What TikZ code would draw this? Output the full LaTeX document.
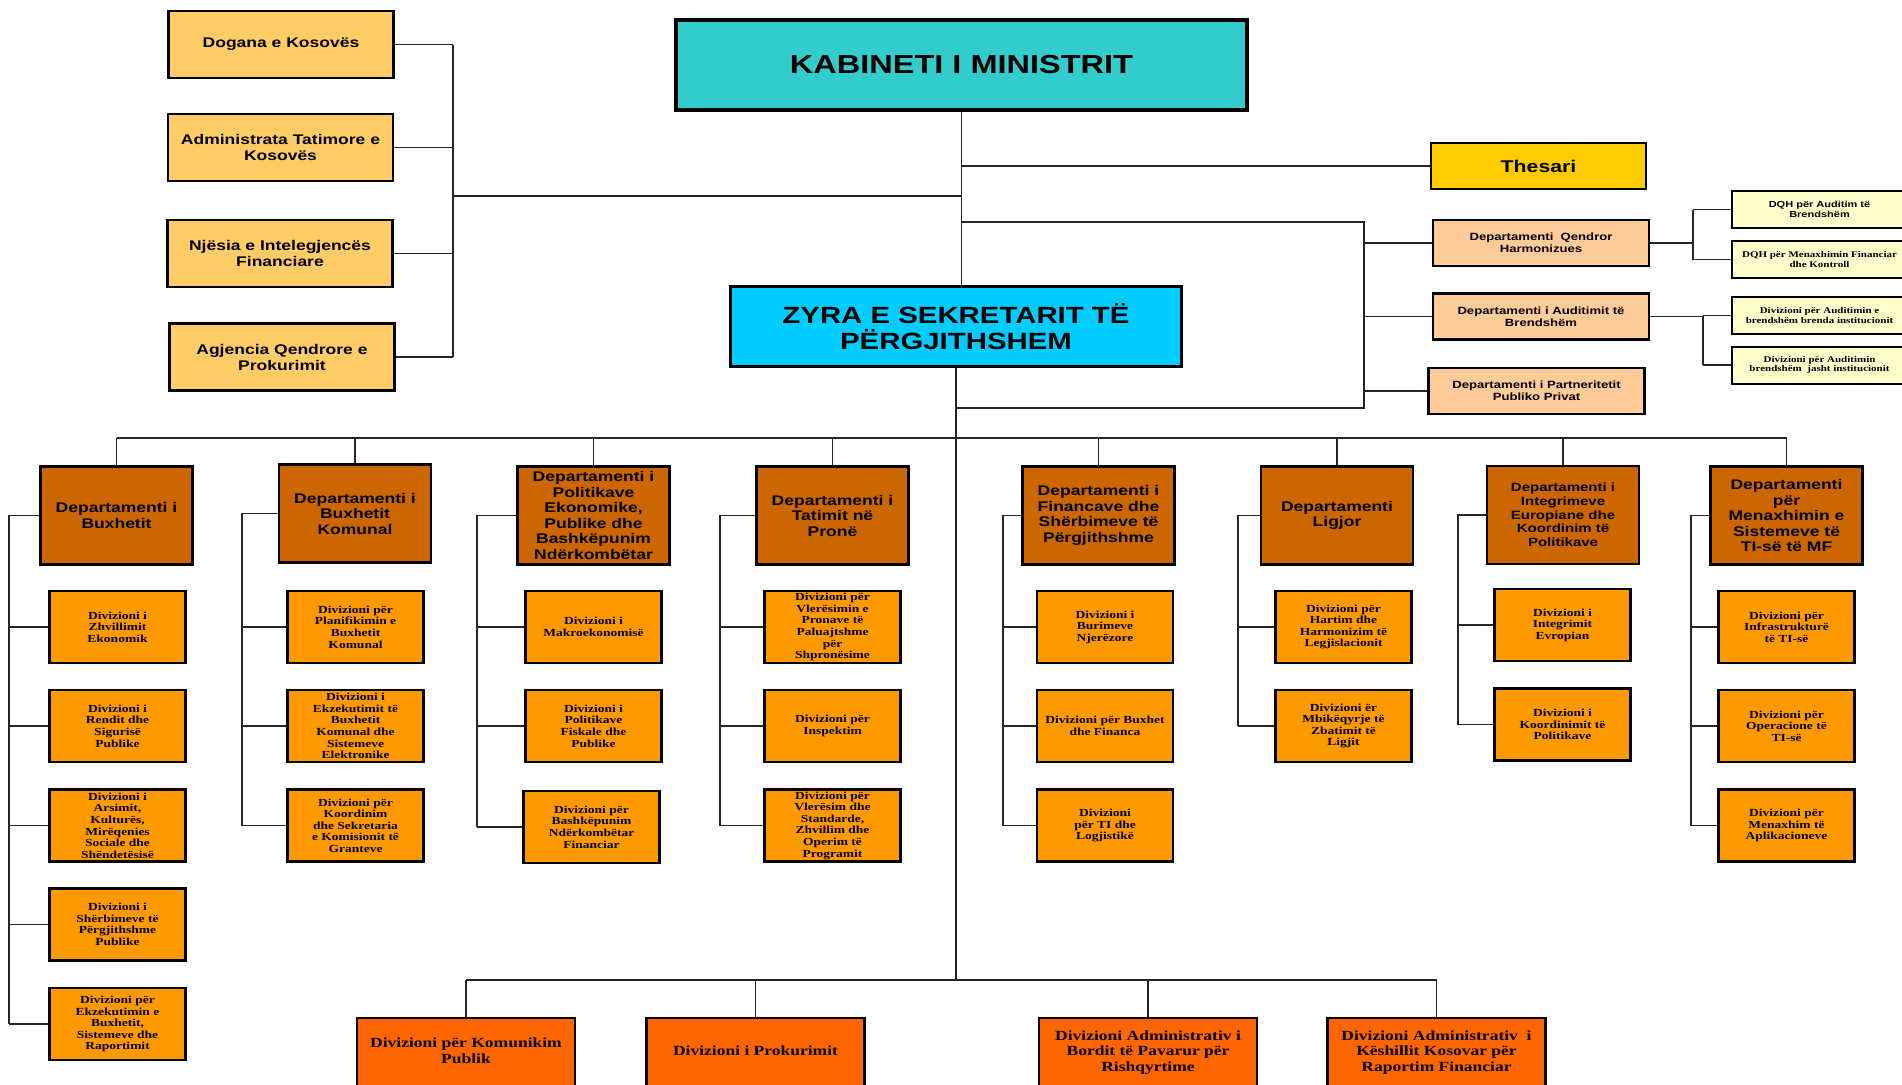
\documentclass[tikz,border=0pt]{standalone}
\usepackage{fontspec}
\setmainfont{Liberation Serif}[FakeStretch=1.25]
\setsansfont{Liberation Sans}[FakeStretch=1.25]
\usetikzlibrary{calc,positioning}
\definecolor{kabteal}{HTML}{33CCCC}
\definecolor{zyrablue}{HTML}{00CCFF}
\definecolor{agencyyel}{HTML}{FFCC66}
\definecolor{thesgold}{HTML}{FFCC00}
\definecolor{peach}{HTML}{FFCC99}
\definecolor{liteyel}{HTML}{FFFFCC}
\definecolor{deptbrown}{HTML}{CC6600}
\definecolor{divorange}{HTML}{FF9900}
\definecolor{lowred}{HTML}{FF6600}
\tikzset{
 mf box/.style={draw=black,line width=2.4pt,inner sep=0pt,align=center},
 mf kab/.style={mf box,line width=4pt,fill=kabteal,minimum width=571,minimum height=90,
                font=\sffamily\bfseries\fontsize{26}{30}\selectfont},
 mf zyra/.style={mf box,line width=3.4pt,fill=zyrablue,minimum width=451,minimum height=80,
                 font=\sffamily\bfseries\fontsize{23.5}{25.5}\selectfont},
 mf agency/.style={mf box,fill=agencyyel,minimum width=225,minimum height=67,
                   font=\sffamily\bfseries\fontsize{14}{16}\selectfont},
 mf thes/.style={mf box,fill=thesgold,minimum width=215,minimum height=46,
                 font=\sffamily\bfseries\fontsize{17}{20}\selectfont},
 mf peach/.style={mf box,fill=peach,minimum width=216,minimum height=46,
                  font=\sffamily\bfseries\fontsize{10.5}{12}\selectfont},
 mf lite/.style={mf box,line width=2pt,fill=liteyel,minimum width=175,minimum height=37,
                 font=\bfseries\fontsize{8.8}{9.5}\selectfont},
 mf dept/.style={mf box,fill=deptbrown,minimum width=152,minimum height=98,
                 font=\sffamily\bfseries\fontsize{14}{15.5}\selectfont},
 mf div/.style={mf box,line width=2.6pt,fill=divorange,minimum width=136,minimum height=72,
                font=\bfseries\fontsize{10.8}{11.6}\selectfont},
 mf low/.style={mf box,fill=lowred,minimum width=218,minimum height=72,
                font=\bfseries\fontsize{14}{15.5}\selectfont},
 mf link/.style={line width=1.3pt,draw=black!85}
}
\begin{document}
\begin{tikzpicture}[x=1pt,y=-1pt]
 \useasboundingbox (0,0) rectangle (1902,1084);
 \clip (0,0) rectangle (1902,1084);

 \node[mf kab] (kab) at (961.5,65) {KABINETI I MINISTRIT};
 \node[mf zyra] (zyra) at (956,326.5) {ZYRA E SEKRETARIT TË\\PËRGJITHSHEM};
 \node[mf thes] (thes) at (1538.5,166) {Thesari};

 \node[mf agency] (dog) at (281,44.5) {Dogana e Kosovës};
 \node[mf agency] (atk) at (280.5,147.5) {Administrata Tatimore e\\Kosovës};
 \node[mf agency] (nji) at (280,253.5) {Njësia e Intelegjencës\\Financiare};
 \node[mf agency] (apk) at (282,357) {Agjencia Qendrore e\\Prokurimit};

 \node[mf peach] (dqh) at (1541,243) {Departamenti~ Qendror\\Harmonizues};
 \node[mf peach] (dab) at (1541,316.5) {Departamenti i Auditimit të\\Brendshëm};
 \node[mf peach] (dpp) at (1536.5,391) {Departamenti i Partneritetit\\Publiko Privat};

 \node[mf lite,font=\sffamily\bfseries\fontsize{8.8}{9.5}\selectfont] (la) at (1819.5,209.5)
   {DQH për Auditim të\\Brendshëm};
 \node[mf lite] (lb) at (1819.5,259.5) {DQH për Menaxhimin Financiar\\dhe Kontroll};
 \node[mf lite] (lc) at (1819.5,315.5) {Divizioni për Auditimin e\\brendshëm brenda institucionit};
 \node[mf lite] (ld) at (1819.5,365) {Divizioni për Auditimin\\brendshëm~ jasht institucionit};

 \node[mf dept] (d1) at (116.5,515.5) {Departamenti i\\Buxhetit};
 \node[mf dept] (d2) at (355,513.5) {Departamenti i\\Buxhetit\\Komunal};
 \node[mf dept] (d3) at (593.5,515.5) {Departamenti i\\Politikave\\Ekonomike,\\Publike dhe\\Bashkëpunim\\Ndërkombëtar};
 \node[mf dept] (d4) at (832.5,515.5) {Departamenti i\\Tatimit në\\Pronë};
 \node[mf dept] (d5) at (1098.5,515.5) {Departamenti i\\Financave dhe\\Shërbimeve të\\Përgjithshme};
 \node[mf dept] (d6) at (1337,515.5) {Departamenti\\Ligjor};
 \node[mf dept,font=\sffamily\bfseries\fontsize{12}{13.7}\selectfont] (d7) at (1563,515)
   {Departamenti i\\Integrimeve\\Europiane dhe\\Koordinim të\\Politikave};
 \node[mf dept] (d8) at (1786.5,515.5) {Departamenti\\për\\Menaxhimin e\\Sistemeve të\\TI-së të MF};

 \node[mf div] (v11) at (117.5,627) {Divizioni i\\Zhvillimit\\Ekonomik};
 \node[mf div] (v12) at (117.5,726) {Divizioni i\\Rendit dhe\\Sigurisë\\Publike};
 \node[mf div] (v13) at (117.5,825.5) {Divizioni i\\Arsimit,\\Kulturës,\\Mirëqenies\\Sociale dhe\\Shëndetësisë};
 \node[mf div] (v14) at (117.5,924.5) {Divizioni i\\Shërbimeve të\\Përgjithshme\\Publike};
 \node[mf div] (v15) at (117.5,1024) {Divizioni për\\Ekzekutimin e\\Buxhetit,\\Sistemeve dhe\\Raportimit};

 \node[mf div] (v21) at (355.5,627) {Divizioni për\\Planifikimin e\\Buxhetit\\Komunal};
 \node[mf div] (v22) at (355.5,726) {Divizioni i\\Ekzekutimit të\\Buxhetit\\Komunal dhe\\Sistemeve\\Elektronike};
 \node[mf div] (v23) at (355.5,825.5) {Divizioni për\\Koordinim\\dhe Sekretaria\\e Komisionit të\\Granteve};

 \node[mf div] (v31) at (593.5,627) {Divizioni i\\Makroekonomisë};
 \node[mf div] (v32) at (593.5,726) {Divizioni i\\Politikave\\Fiskale dhe\\Publike};
 \node[mf div] (v33) at (591.5,827) {Divizioni për\\Bashkëpunim\\Ndërkombëtar\\Financiar};

 \node[mf div] (v41) at (832.5,627) {Divizioni për\\Vlerësimin e\\Pronave të\\Paluajtshme\\për\\Shpronësime};
 \node[mf div] (v42) at (832.5,726) {Divizioni për\\Inspektim};
 \node[mf div] (v43) at (832.5,825.5) {Divizioni për\\Vlerësim dhe\\Standarde,\\Zhvillim dhe\\Operim të\\Programit};

 \node[mf div] (v51) at (1105,627) {Divizioni i\\Burimeve\\Njerëzore};
 \node[mf div] (v52) at (1105,726) {Divizioni për Buxhet\\dhe Financa};
 \node[mf div] (v53) at (1105,825.5) {Divizioni\\për TI dhe\\Logjistikë};

 \node[mf div] (v61) at (1343.5,627) {Divizioni për\\Hartim dhe\\Harmonizim të\\Legjislacionit};
 \node[mf div] (v62) at (1343.5,726) {Divizioni ër\\Mbikëqyrje të\\Zbatimit të\\Ligjit};

 \node[mf div] (v71) at (1562.5,625) {Divizioni i\\Integrimit\\Evropian};
 \node[mf div] (v72) at (1562.5,724.5) {Divizioni i\\Koordinimit të\\Politikave};

 \node[mf div] (v81) at (1786.5,627) {Divizioni për\\Infrastrukturë\\të TI-së};
 \node[mf div] (v82) at (1786.5,726) {Divizioni për\\Operacione të\\TI-së};
 \node[mf div] (v83) at (1786.5,825.5) {Divizioni për\\Menaxhim të\\Aplikacioneve};

 \node[mf low] (w1) at (466,1054) {Divizioni për Komunikim\\Publik\\[-9pt]};
 \node[mf low] (w2) at (755.5,1054) {Divizioni i Prokurimit\\[-9pt]};
 \node[mf low] (w3) at (1148,1054) {Divizioni Administrativ i\\Bordit të Pavarur për\\Rishqyrtime\\[-9pt]};
 \node[mf low] (w4) at (1436.5,1054) {Divizioni Administrativ~ i\\Këshillit Kosovar për\\Raportim Financiar\\[-9pt]};

 \coordinate (agx) at (453,196);
 \coordinate (rt) at (1364,222);
 \coordinate (rb) at (1364,408);
 \coordinate (qx) at (1693,0);
 \coordinate (ax) at (1703,0);
 \coordinate (dbus) at (0,438);
 \coordinate (lbus) at (0,980);
 \coordinate (bx1) at (9,0);
 \coordinate (bx2) at (242,0);
 \coordinate (bx3) at (477,0);
 \coordinate (bx4) at (720,0);
 \coordinate (bx5) at (1003,0);
 \coordinate (bx6) at (1238,0);
 \coordinate (bx7) at (1458,0);
 \coordinate (bx8) at (1691,0);

 \draw[mf link] (kab.south) -- (kab.south |- zyra.north);
 \draw[mf link] (kab.south |- thes.west) -- (thes.west);
 \draw[mf link] (kab.south |- agx) -- (agx);
 \draw[mf link] (dog.east -| agx) -- (apk.east -| agx);
 \foreach \n in {dog,atk,nji,apk} \draw[mf link] (\n.east) -- (\n.east -| agx);

 \draw[mf link] (kab.south |- rt) -- (rt) -- (rb) -- (zyra.south |- rb);
 \foreach \n in {dqh,dab,dpp} \draw[mf link] (\n.west -| rt) -- (\n.west);

 \draw[mf link] (dqh.east) -- (dqh.east -| qx);
 \draw[mf link] (la.west -| qx) -- (lb.west -| qx);
 \foreach \n in {la,lb} \draw[mf link] (\n.west -| qx) -- (\n.west);
 \draw[mf link] (dab.east) -- (dab.east -| ax);
 \draw[mf link] (lc.west -| ax) -- (ld.west -| ax);
 \foreach \n in {lc,ld} \draw[mf link] (\n.west -| ax) -- (\n.west);

 \draw[mf link] (zyra.south) -- (zyra.south |- lbus);
 \draw[mf link] (d1.north |- dbus) -- (d8.north |- dbus);
 \foreach \d in {1,...,8} \draw[mf link] (d\d.north |- dbus) -- (d\d.north);

 \foreach \d/\n in {1/5,2/3,3/3,4/3,5/3,6/2,7/2,8/3} {
   \draw[mf link] (d\d.west) -- (d\d.west -| bx\d) -- (v\d\n.west -| bx\d);
   \foreach \r in {1,...,\n} \draw[mf link] (v\d\r.west -| bx\d) -- (v\d\r.west);
 }

 \draw[mf link] (w1.north |- lbus) -- (w4.north |- lbus);
 \foreach \w in {1,...,4} \draw[mf link] (w\w.north |- lbus) -- (w\w.north);
\end{tikzpicture}
\end{document}
